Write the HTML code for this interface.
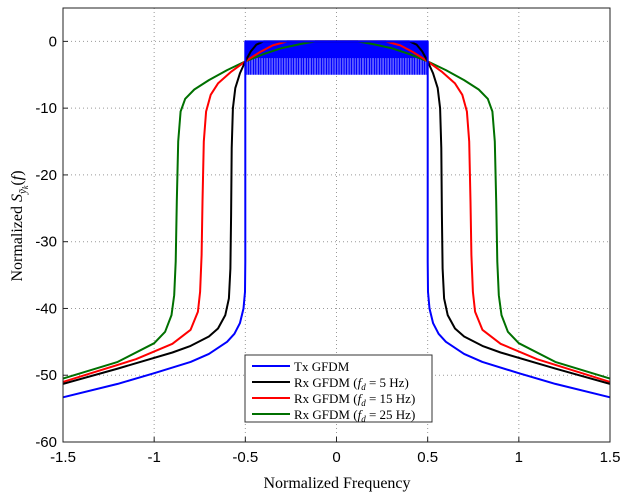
<!DOCTYPE html>
<html><head><meta charset="utf-8"><style>
body{margin:0;background:#fff;}
svg text{font-family:"Liberation Sans",sans-serif;}
</style></head><body>
<svg id="chart" width="636" height="496" xmlns="http://www.w3.org/2000/svg">
<g id="grid"></g>
<g id="series"></g>
<g id="axes"></g>
<text x="337" y="488" text-anchor="middle" style="font-family:'Liberation Serif',serif;font-size:16px">Normalized Frequency</text>
<text transform="translate(22,226) rotate(-90)" text-anchor="middle" style="font-family:'Liberation Serif',serif;font-size:16px">Normalized <tspan font-style="italic">S</tspan><tspan font-style="italic" font-size="11" dy="4">ỹ</tspan><tspan font-style="italic" font-size="8" dy="2">k</tspan><tspan dy="-6">(</tspan><tspan font-style="italic">f</tspan>)</text>
<g>
<rect x="245" y="355" width="187" height="67" fill="#fff" stroke="#333" stroke-width="1"/>
<g id="legend-entries"></g>
</g>
</svg>
<script>
const xTicks=[-1.5,-1,-0.5,0,0.5,1,1.5];
const xTickLabels=["-1.5","-1","-0.5","0","0.5","1","1.5"];
const yTicks=[0,-10,-20,-30,-40,-50,-60];
const yTickLabels=["0","-10","-20","-30","-40","-50","-60"];
const seriesNames=["Tx GFDM","Rx GFDM (fd = 5 Hz)","Rx GFDM (fd = 15 Hz)","Rx GFDM (fd = 25 Hz)"];
const seriesColors=["#0000ff","#000000","#ff0000","#007000"];
// positive-frequency halves (mirrored)
const txF=[0,0.5,0.5,0.502,0.51,0.53,0.56,0.6,0.7,0.8,1.0,1.2,1.5];
const txDb=[0,0,-33,-37.5,-40,-42.2,-43.8,-45,-46.8,-48,-49.7,-51.3,-53.3];
const rx5F=[0,0.4,0.44,0.47,0.5,0.53,0.555,0.568,0.575,0.578,0.582,0.59,0.61,0.65,0.7,0.8,0.9,1.2,1.5];
const rx5Db=[0,0,-0.5,-1.5,-3,-4.8,-7,-10,-16,-26,-34,-38.5,-41,-43,-44.2,-45.6,-46.6,-49,-51.3];
const rx15F=[0,0.27,0.35,0.42,0.5,0.58,0.65,0.69,0.715,0.728,0.735,0.74,0.748,0.76,0.8,0.9,1.1,1.5];
const rx15Db=[0,0,-0.6,-1.6,-3,-4.6,-6.3,-8,-10.5,-15,-24,-32,-37.5,-40.5,-43.2,-45.3,-47.6,-51];
const rx25F=[0,0.115,0.2,0.3,0.4,0.5,0.6,0.7,0.78,0.83,0.855,0.868,0.876,0.882,0.89,0.905,0.94,1.0,1.2,1.5];
const rx25Db=[0,0,-0.4,-1,-1.9,-3,-4.3,-5.8,-7.2,-8.6,-10.5,-15,-24,-33,-38,-41,-43.5,-45.2,-48,-50.5];
const rippleDepth=-5, rippleCount=110, bandEdge=0.5;

const NS="http://www.w3.org/2000/svg";
const L=63,R=610,T=8,B=442;
const xs=f=>L+(f+1.5)/3*(R-L);
const ys=d=>T+(5-d)/65*(B-T);
function mk(tag,attrs,parent){const e=document.createElementNS(NS,tag);for(const k in attrs)e.setAttribute(k,attrs[k]);parent.appendChild(e);return e;}
const grid=document.getElementById('grid'),axes=document.getElementById('axes'),ser=document.getElementById('series');
xTicks.forEach((t,i)=>{
 const g=mk('line',{x1:xs(t),x2:xs(t),y1:T,y2:B,stroke:'#999','stroke-dasharray':'1,3'},grid);
 
 
 const tk=mk('line',{x1:xs(t),x2:xs(t),y1:B,y2:B-5,stroke:'#222'},axes);
 
 
 const tx=mk('text',{x:xs(t),y:B+20,'text-anchor':'middle','font-size':'15'},axes);
 tx.textContent=xTickLabels[i];
 
 
});
yTicks.forEach((t,i)=>{
 const g=mk('line',{x1:L,x2:R,y1:ys(t),y2:ys(t),stroke:'#999','stroke-dasharray':'1,3'},grid);
 
 
 const tk=mk('line',{x1:L,x2:L+5,y1:ys(t),y2:ys(t),stroke:'#222'},axes);
 
 
 const tx=mk('text',{x:L-6,y:ys(t)+5,'text-anchor':'end','font-size':'15'},axes);
 tx.textContent=yTickLabels[i];
 
 
});
const frame=mk('rect',{x:L,y:T,width:R-L,height:B-T,fill:'none',stroke:'#222'},axes);


const band=mk('g',{},ser);


mk('rect',{x:xs(-bandEdge),y:ys(0),width:xs(bandEdge)-xs(-bandEdge),height:ys(rippleDepth/2)-ys(0),fill:'#0000ff'},band);
for(let i=0;i<=rippleCount;i++){const f=-bandEdge+2*bandEdge*i/rippleCount;
 mk('line',{x1:xs(f),x2:xs(f),y1:ys(0),y2:ys(rippleDepth),stroke:'#0000ff','stroke-width':1.3},band);}
function pathFor(F,D){const pts=[];for(let i=F.length-1;i>=0;i--)pts.push([-F[i],D[i]]);for(let i=0;i<F.length;i++)pts.push([F[i],D[i]]);
 return 'M'+pts.map(p=>xs(p[0]).toFixed(1)+','+ys(p[1]).toFixed(1)).join('L');}
const sets=[[txF,txDb],[rx5F,rx5Db],[rx15F,rx15Db],[rx25F,rx25Db]];
const names=['tx-gfdm-line','rx-5hz-line','rx-15hz-line','rx-25hz-line'];
[3,2,1,0].forEach(i=>{
 const p=mk('path',{d:pathFor(sets[i][0],sets[i][1]),fill:'none',stroke:seriesColors[i],'stroke-width':2,'stroke-linejoin':'round'},ser);
 
 
});
const le=document.getElementById('legend-entries');
seriesNames.forEach((n,i)=>{
 const y=366+i*16;
 const g=mk('g',{},le);
 
 
 mk('line',{x1:252,x2:290,y1:y,y2:y,stroke:seriesColors[i],'stroke-width':2},g);
 const t=mk('text',{x:294,y:y+5,'font-size':'13',style:"font-family:'Liberation Serif',serif"},g);
 if(i===0){t.textContent=n;}
 else{const m=n.match(/^(.*\()fd = (.*)$/);
  t.innerHTML=m[1]+'<tspan font-style="italic">f</tspan><tspan font-style="italic" font-size="9" dy="3">d</tspan><tspan dy="-3"> = '+m[2]+'</tspan>';}
});
</script>
</body></html>
